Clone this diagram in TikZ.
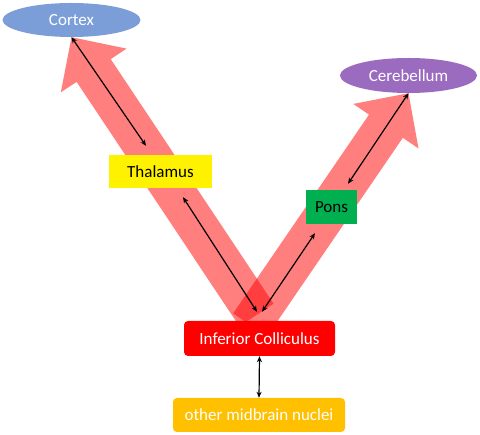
\documentclass[tikz,border=0pt]{standalone}
\usepackage{fontspec}
\setmainfont{Carlito}
\usetikzlibrary{arrows.meta,calc,shapes.geometric,backgrounds}
\definecolor{cortexblue}{RGB}{124,158,216}
\definecolor{cerebpurple}{RGB}{155,107,192}
\definecolor{ponsgreen}{RGB}{0,176,80}
\definecolor{nucleigold}{RGB}{255,192,0}
\tikzset{
  area/.style={inner sep=0pt, font=\fontsize{17}{20}\selectfont},
  blob/.style={area, ellipse, text=white},
  box/.style={area, rectangle},
  rbox/.style={area, rectangle, rounded corners=4pt, text=white},
  link/.style={{Stealth[length=6pt,width=5pt]}-{Stealth[length=6pt,width=5pt]}, line width=1.2pt},
  tract/.style={fill=red, fill opacity=0.5},
}
\newcommand{\tractarrow}[2]{%
  \path ($(#2)!40pt!(#1)$) coordinate (neck);
  \fill[tract] ($(#1)!20.5pt!90:(#2)$) -- ($(neck)!20.5pt!90:(#2)$)
    -- ($(neck)!39.5pt!90:(#2)$) -- (#2) -- ($(neck)!39.5pt!-90:(#2)$)
    -- ($(neck)!20.5pt!-90:(#2)$) -- ($(#1)!20.5pt!-90:(#2)$) -- cycle;
}
\begin{document}
\begin{tikzpicture}[x=1pt,y=-1pt]
        \useasboundingbox (0,0) rectangle (480,435);
        \node[blob, fill=cortexblue, minimum width=138pt, minimum height=34pt] (cortex) at (71.5,20) {Cortex};
        \node[blob, fill=cerebpurple, minimum width=137pt, minimum height=35pt] (cereb) at (408.5,75.5) {Cerebellum};
        \node[box, fill=yellow, minimum width=103pt, minimum height=33pt] (thal) at (160.5,171.5) {Thalamus};
        \node[box, fill=ponsgreen, minimum width=51pt, minimum height=34pt] (pons) at (331.5,207) {Pons};
        \node[rbox, fill=red, minimum width=151pt, minimum height=35pt] (ic) at (259.5,338.5) {Inferior Colliculus};
        \node[rbox, fill=nucleigold, minimum width=172pt, minimum height=34pt] (other) at (259,415) {other midbrain nuclei};
        \coordinate (lfoot) at (256.5,315);
        \coordinate (rfoot) at (250,325);
        \begin{scope}[on background layer]
          \tractarrow{lfoot}{cortex.south}
          \tractarrow{rfoot}{cereb.south}
        \end{scope}
        \draw[link] (cortex.south) -- ([xshift=-14.5pt,yshift=9pt]thal.north);
        \draw[link] ([xshift=22.5pt,yshift=-9pt]thal.south) -- ([xshift=-2.5pt,yshift=9pt]ic.north);
        \draw[link] ([xshift=2.5pt,yshift=9pt]ic.north) -- ([xshift=-16.5pt,yshift=-9pt]pons.south);
        \draw[link] ([xshift=16.5pt,yshift=6pt]pons.north) -- (cereb.south);
        \draw[link] (ic.south) -- (other.north);
      \end{tikzpicture}
\end{document}
